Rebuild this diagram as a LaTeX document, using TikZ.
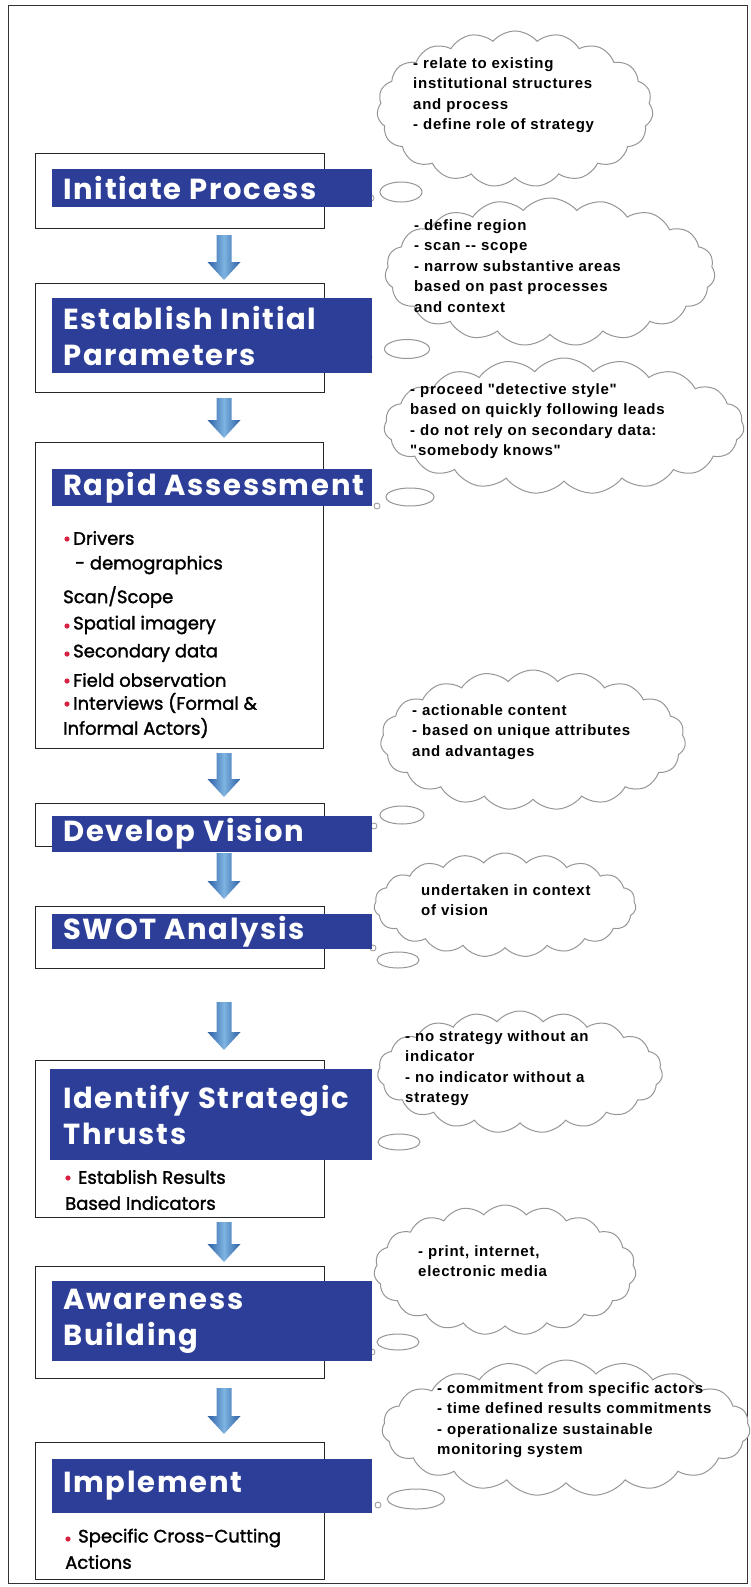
\documentclass[tikz,border=0pt]{standalone}
\usepackage{fontspec}
\setmainfont{Liberation Sans}
\newfontfamily\titlefont{Poppins}[LetterSpace=6]
\newfontfamily\bodyfont{Poppins}[FakeBold=1.6]
\newfontfamily\cloudfont{Liberation Sans}[LetterSpace=5]
\usetikzlibrary{shapes.symbols,shapes.geometric,calc}
\definecolor{bandblue}{RGB}{44,62,152}
\definecolor{bulletred}{RGB}{215,35,65}
\definecolor{arrdark}{RGB}{45,95,165}
\definecolor{arrlight}{RGB}{125,180,225}
\definecolor{cloudgray}{RGB}{150,150,150}
\tikzset{
  stagebox/.style={draw=black!85, line width=1.2pt, fill=white, anchor=north west, inner sep=0},
  band/.style={fill=bandblue, anchor=north west, inner sep=0},
  title/.style={text=white, font=\titlefont\bfseries\fontsize{29}{36}\selectfont, anchor=west, inner sep=0, align=left},
  item/.style={font=\bodyfont\fontsize{18}{26}\selectfont, anchor=west, inner sep=0},
  cloudbox/.style={cloud, draw=cloudgray, line width=1pt, cloud puffs=19, cloud puff arc=100, cloud ignores aspect, inner sep=0, fill=white},
  cloudtext/.style={font=\cloudfont\bfseries\fontsize{15}{20.5}\selectfont, anchor=north west, align=left, inner sep=0},
  tailell/.style={ellipse, draw=cloudgray, line width=1pt, inner sep=0, fill=white},
  taildot/.style={circle, draw=cloudgray, line width=0.8pt, minimum size=6pt, inner sep=0},
}
\newcommand\blockarrow[2]{%
  \shade[left color=arrdark, right color=arrdark, middle color=arrlight]
    ($(#1)+(-7.5,0)$) -- ($(#2)+(-7.5,-18)$) -- ($(#2)+(-16.5,-18)$) -- (#2)
    -- ($(#2)+(16.5,-18)$) -- ($(#2)+(7.5,-18)$) -- ($(#1)+(7.5,0)$) -- cycle;}
\newcommand\bul[1]{\fill[bulletred] (#1) circle (2.6pt);}
\begin{document}
\begin{tikzpicture}[x=1pt,y=-1pt]
\useasboundingbox (0,0) rectangle (750,1587);
\fill[white] (0,0) rectangle (750,1587);
\draw[black!80, line width=0.8pt] (8,5) rectangle (747,1583);

% ---------- clouds ----------
\node (c1) [cloudbox, minimum width=276, minimum height=156] at (515,109) {};
\node (c1e) [tailell, minimum width=42, minimum height=20] at (401,192) {};
\node (c1d) [taildot] at (371,198) {};
\node (c1t) [cloudtext] at (413,57) {- relate to existing\\institutional structures\\and process\\- define role of strategy};

\node (c2) [cloudbox, minimum width=330, minimum height=148] at (550,272) {};
\node (c2e) [tailell, minimum width=45, minimum height=19] at (407,349) {};
\node (c2d) [taildot] at (369,357) {};
\node (c2t) [cloudtext] at (414,219) {- define region\\- scan -- scope\\- narrow substantive areas\\based on past processes\\and context};

\node (c3) [cloudbox, minimum width=360, minimum height=136] at (564,426) {};
\node (c3e) [tailell, minimum width=48, minimum height=18] at (410,497) {};
\node (c3d) [taildot] at (377,506) {};
\node (c3t) [cloudtext] at (410,383) {- proceed "detective style"\\based on quickly following leads\\- do not rely on secondary data:\\"somebody knows"};

\node (c4) [cloudbox, minimum width=305, minimum height=140] at (533,740) {};
\node (c4e) [tailell, minimum width=44, minimum height=18] at (402,815) {};
\node (c4d) [taildot] at (374,826) {};
\node (c4t) [cloudtext] at (412,704) {- actionable content\\- based on unique attributes\\and advantages};

\node (c5) [cloudbox, minimum width=262, minimum height=104] at (505,905) {};
\node (c5e) [tailell, minimum width=42, minimum height=16] at (398,960) {};
\node (c5d) [taildot] at (373,948) {};
\node (c5t) [cloudtext] at (421,884) {undertaken in context\\of vision};

\node (c6) [cloudbox, minimum width=285, minimum height=122] at (520,1072) {};
\node (c6e) [tailell, minimum width=42, minimum height=16] at (399,1142) {};
\node (c6d) [taildot] at (368,1149) {};
\node (c6t) [cloudtext] at (405,1030) {- no strategy without an\\indicator\\- no indicator without a\\strategy};

\node (c7) [cloudbox, minimum width=262, minimum height=130] at (505,1270) {};
\node (c7e) [tailell, minimum width=42, minimum height=16] at (398,1342) {};
\node (c7d) [taildot] at (372,1352) {};
\node (c7t) [cloudtext] at (418,1245) {- print, internet,\\electronic media};

\node (c8) [cloudbox, minimum width=368, minimum height=136] at (566,1428) {};
\node (c8e) [tailell, minimum width=57, minimum height=20] at (416,1499) {};
\node (c8d) [taildot] at (378,1505) {};
\node (c8t) [cloudtext] at (437,1382) {- commitment from specific actors\\- time defined results commitments\\- operationalize sustainable\\monitoring system};

% ---------- stage 1 ----------
\node (b1) [stagebox, minimum width=289, minimum height=75] at (35,153) {};
\node (n1) [band, minimum width=320, minimum height=38] at (52,169) {};
\node (t1) [title] at (63,188) {Initiate Process};

% ---------- stage 2 ----------
\node (b2) [stagebox, minimum width=289, minimum height=109] at (35,283) {};
\node (n2) [band, minimum width=320, minimum height=75] at (52,298) {};
\node (t2) [title] at (63,335.5) {Establish Initial\\Parameters};

% ---------- stage 3 ----------
\node (b3) [stagebox, minimum width=288, minimum height=306] at (35,442) {};
\node (n3) [band, minimum width=320, minimum height=37] at (52,469) {};
\node (t3) [title] at (63,487.5) {Rapid Assessment};
\bul{67,539}
\node (i31) [item] at (73,538) {Drivers};
\node (i32) [item] at (75,565) {- demographics};
\node (i33) [item] at (63,597) {Scan/Scope};
\bul{67,626}
\node (i34) [item] at (73,625) {Spatial imagery};
\bul{67,654}
\node (i35) [item] at (73,653) {Secondary data};
\bul{67,681}
\node (i36) [item] at (73,680) {Field observation};
\bul{67,704}
\node (i37) [item] at (73,703) {Interviews (Formal \&};
\node (i38) [item] at (63,728) {Informal Actors)};

% ---------- stage 4 ----------
\node (b4) [stagebox, minimum width=289, minimum height=43] at (35,803) {};
\node (n4) [band, minimum width=320, minimum height=36] at (52,816) {};
\node (t4) [title] at (63,834) {Develop Vision};

% ---------- stage 5 ----------
\node (b5) [stagebox, minimum width=289, minimum height=62] at (35,906) {};
\node (n5) [band, minimum width=320, minimum height=35] at (52,914) {};
\node (t5) [title] at (63,931.5) {SWOT Analysis};

% ---------- stage 6 ----------
\node (b6) [stagebox, minimum width=289, minimum height=157] at (35,1060) {};
\node (n6) [band, minimum width=322, minimum height=91] at (50,1069) {};
\node (t6) [title] at (63,1114.5) {Identify Strategic\\Thrusts};
\bul{68,1178}
\node (i61) [item] at (78,1177) {Establish Results};
\node (i62) [item] at (65,1203) {Based Indicators};

% ---------- stage 7 ----------
\node (b7) [stagebox, minimum width=289, minimum height=112] at (35,1266) {};
\node (n7) [band, minimum width=320, minimum height=80] at (52,1281) {};
\node (t7) [title] at (63,1321) {Awareness\\Building};

% ---------- stage 8 ----------
\node (b8) [stagebox, minimum width=289, minimum height=137] at (35,1442) {};
\node (n8) [band, minimum width=320, minimum height=54] at (52,1459) {};
\node (t8) [title] at (63,1486) {Implement};
\bul{68,1539}
\node (i81) [item] at (78,1538) {Specific Cross-Cutting};
\node (i82) [item] at (65,1562) {Actions};

% ---------- arrows ----------
\coordinate (a1s) at (224,235); \coordinate (a1e) at (224,280);
\coordinate (a2s) at (224,398); \coordinate (a2e) at (224,438);
\coordinate (a3s) at (224,753); \coordinate (a3e) at (224,797);
\coordinate (a4s) at (224,853); \coordinate (a4e) at (224,899);
\coordinate (a5s) at (224,1002); \coordinate (a5e) at (224,1050);
\coordinate (a6s) at (224,1222); \coordinate (a6e) at (224,1262);
\coordinate (a7s) at (224,1388); \coordinate (a7e) at (224,1434);
\blockarrow{a1s}{a1e}
\blockarrow{a2s}{a2e}
\blockarrow{a3s}{a3e}
\blockarrow{a4s}{a4e}
\blockarrow{a5s}{a5e}
\blockarrow{a6s}{a6e}
\blockarrow{a7s}{a7e}
\end{tikzpicture}
\end{document}
